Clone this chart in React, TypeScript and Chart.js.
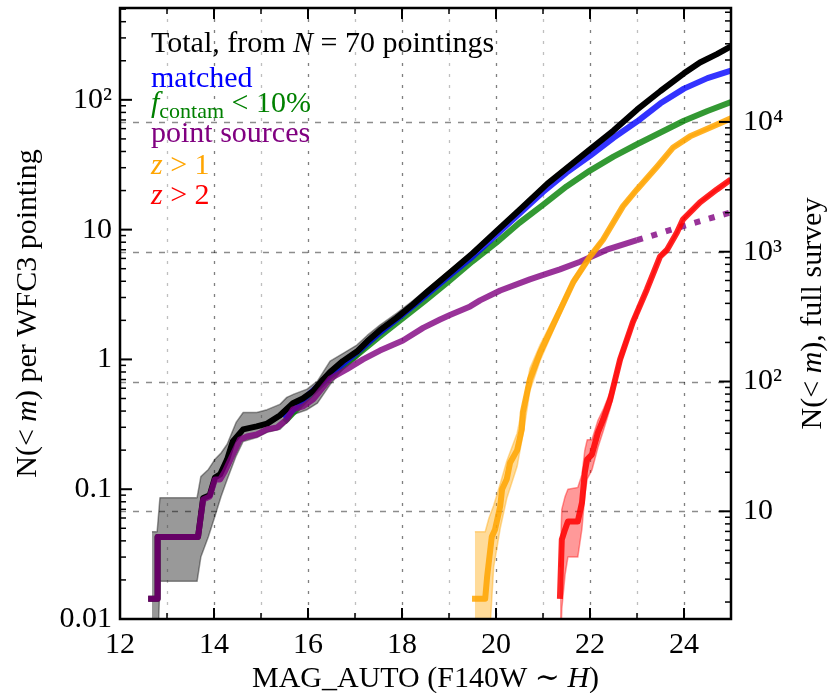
import React, { useEffect, useRef } from 'react';
import { Chart, registerables } from 'chart.js';

Chart.register(...registerables);

const FONT = "'Liberation Serif', 'Times New Roman', 'DejaVu Serif', serif";

// ---------- axis definitions ----------
const X_MIN = 12;
const X_MAX = 25;
const Y_MIN = 0.01;
const Y_MAX = 510;
const FULL_SURVEY_FACTOR = 148; // right axis (full survey) / left axis (per pointing)

const xTickVals = [12, 13, 14, 15, 16, 17, 18, 19, 20, 21, 22, 23, 24, 25];
const xTickLabels = ['12', '', '14', '', '16', '', '18', '', '20', '', '22', '', '24', ''];
const leftTickVals = [0.01, 0.1, 1, 10, 100];
const leftTickLabels = ['0.01', '0.1', '1', '10', '10²'];
const rightTickVals = [10, 100, 1000, 10000];
const rightTickLabels = ['10', '10²', '10³', '10⁴'];

// ---------- data ----------
// Total (black)
const totalMag = [12.6, 12.8, 12.8, 13.66, 13.77, 13.91, 14.02, 14.13, 14.28, 14.4, 14.62, 14.91, 15.13, 15.4, 15.68, 15.89, 16.11, 16.32, 16.47, 16.74, 17.04, 17.26, 17.53, 17.89, 18.23, 18.53, 19.09, 19.51, 20.02, 20.51, 21.09, 22.0, 22.5, 23.0, 23.5, 24.0, 24.34, 24.7, 25.0];
const totalN = [0.0143, 0.0143, 0.0429, 0.0429, 0.0857, 0.09, 0.123, 0.13, 0.17, 0.233, 0.289, 0.305, 0.32, 0.37, 0.46, 0.5, 0.57, 0.7, 0.8, 0.97, 1.15, 1.38, 1.68, 2.1, 2.65, 3.3, 4.9, 6.6, 9.8, 14.3, 22.5, 41.5, 58, 84, 117, 160, 194, 225, 258];
// Total uncertainty band
const totalBandMag = [12.68, 12.79, 12.85, 13.64, 13.72, 13.88, 14.02, 14.15, 14.28, 14.47, 14.62, 14.91, 15.13, 15.4, 15.55, 15.7, 15.98, 16.2, 16.47, 16.74, 17.04, 17.26, 17.53, 17.89, 18.23, 18.53, 19.09, 19.51, 20.02, 20.51, 21.09, 22.0, 22.5, 23.0, 23.5, 24.0, 24.34, 24.7, 25.0];
const totalBandLo = [0.004, 0.004, 0.0195, 0.0195, 0.03, 0.043, 0.062, 0.088, 0.119, 0.18, 0.233, 0.25, 0.274, 0.289, 0.327, 0.377, 0.41, 0.46, 0.64, 0.84, 1.02, 1.24, 1.53, 1.94, 2.48, 3.12, 4.68, 6.36, 9.52, 13.95, 22.0, 40.8, 57.2, 83, 116, 158.5, 192.5, 223.5, 256];
const totalBandHi = [0.047, 0.047, 0.086, 0.086, 0.125, 0.142, 0.17, 0.19, 0.222, 0.327, 0.39, 0.39, 0.41, 0.45, 0.51, 0.54, 0.59, 0.68, 0.97, 1.11, 1.29, 1.53, 1.84, 2.27, 2.83, 3.49, 5.13, 6.85, 10.1, 14.65, 23.0, 42.2, 58.8, 85, 118, 161.5, 195.5, 226.5, 260];

// Matched (blue)
const matchedMag = [15.5, 16.0, 16.5, 17.0, 17.5, 18.0, 18.5, 19.0, 19.5, 20.0, 20.5, 21.0, 21.5, 22.0, 22.5, 23.0, 23.5, 24.0, 24.5, 25.0];
const matchedN = [0.35, 0.53, 0.78, 1.1, 1.58, 2.2, 3.1, 4.4, 6.2, 9.1, 13.3, 19.5, 27.5, 37, 51, 68, 94, 122, 147, 168];

// f_contam < 10% (green)
const cleanMag = [15.5, 16.0, 16.5, 17.0, 17.5, 18.0, 18.5, 19.0, 19.5, 20.0, 20.5, 21.0, 21.5, 22.0, 22.5, 23.0, 23.5, 24.0, 24.5, 25.0];
const cleanN = [0.33, 0.51, 0.75, 1.05, 1.48, 2.05, 2.85, 4.0, 5.7, 7.9, 11.3, 15.5, 21.5, 28.5, 36.5, 45.5, 56, 69, 82, 96];

// Point sources (purple), solid part then dotted extrapolation
const pointMag = [12.6, 12.8, 12.8, 13.66, 13.77, 13.91, 14.02, 14.13, 14.23, 14.4, 14.55, 14.7, 14.91, 15.13, 15.34, 15.55, 15.68, 15.89, 16.11, 16.47, 16.83, 17.17, 17.53, 18.02, 18.45, 18.81, 19.02, 19.45, 19.66, 20.09, 20.72, 20.94, 21.36, 21.79, 22.36, 23.0];
const pointN = [0.0143, 0.0143, 0.0429, 0.0429, 0.0834, 0.088, 0.119, 0.119, 0.137, 0.185, 0.242, 0.255, 0.264, 0.289, 0.299, 0.345, 0.412, 0.434, 0.492, 0.71, 0.84, 1.0, 1.17, 1.4, 1.75, 2.03, 2.2, 2.56, 2.85, 3.4, 4.14, 4.4, 4.94, 5.65, 7.0, 8.3];
const pointExtMag = [23.0, 24.0, 25.0];
const pointExtN = [8.3, 10.7, 13.6];

// z > 1 (orange)
const z1Mag = [19.49, 19.77, 19.81, 19.91, 19.98, 20.09, 20.13, 20.23, 20.3, 20.45, 20.55, 20.57, 20.72, 20.94, 21.3, 21.64, 22.0, 22.28, 22.7, 23.0, 23.43, 23.77, 24.13, 24.62, 25.0];
const z1N = [0.0143, 0.0143, 0.021, 0.043, 0.049, 0.074, 0.1, 0.12, 0.16, 0.2, 0.29, 0.39, 0.7, 1.13, 2.14, 3.92, 6.2, 8.4, 15.1, 20.4, 30.7, 43, 52.3, 62.5, 72];
const z1BandMag = [19.55, 19.77, 19.85, 19.95, 20.09, 20.23, 20.45, 20.6, 20.72, 20.94, 21.3, 21.64, 22.0, 22.28, 22.7, 23.0, 23.43, 23.77, 24.13, 24.62, 25.0];
const z1BandLo = [0.004, 0.004, 0.006, 0.025, 0.05, 0.085, 0.15, 0.3, 0.57, 0.98, 1.95, 3.65, 5.9, 8.1, 14.6, 19.8, 30.0, 42.2, 51.5, 61.7, 71.2];
const z1BandHi = [0.047, 0.047, 0.06, 0.075, 0.11, 0.165, 0.27, 0.5, 0.85, 1.3, 2.35, 4.2, 6.5, 8.7, 15.6, 21.0, 31.4, 43.8, 53.1, 63.3, 72.8];

// z > 2 (red)
const z2Mag = [21.36, 21.4, 21.47, 21.53, 21.74, 21.83, 21.89, 21.94, 22.04, 22.17, 22.28, 22.43, 22.64, 22.91, 23.21, 23.49, 23.64, 23.85, 23.98, 24.34, 24.7, 25.0];
const z2N = [0.0143, 0.041, 0.049, 0.0564, 0.0564, 0.079, 0.135, 0.17, 0.185, 0.274, 0.345, 0.49, 1.0, 1.93, 3.46, 6.2, 7.0, 9.5, 12.0, 16.2, 20.4, 24.4];
const z2BandMag = [21.36, 21.4, 21.47, 21.53, 21.74, 21.83, 21.89, 21.94, 22.04, 22.17, 22.28, 22.43, 22.64, 22.91, 23.21, 23.49, 23.64, 23.85, 23.98, 24.34, 24.7, 25.0];
const z2BandLo = [0.004, 0.012, 0.022, 0.03, 0.03, 0.05, 0.09, 0.12, 0.14, 0.21, 0.28, 0.42, 0.9, 1.8, 3.3, 6.0, 6.8, 9.25, 11.7, 15.9, 20.1, 24.1];
const z2BandHi = [0.025, 0.07, 0.088, 0.1, 0.103, 0.13, 0.2, 0.24, 0.24, 0.34, 0.41, 0.56, 1.1, 2.06, 3.6, 6.4, 7.2, 9.75, 12.3, 16.5, 20.7, 24.7];

// ---------- text ----------
type Seg = { t: string; it?: boolean; sub?: boolean };
const legendLines: { segs: Seg[]; color: string }[] = [
  { segs: [{ t: 'Total, from ' }, { t: 'N', it: true }, { t: ' = 70 pointings' }], color: '#000000' },
  { segs: [{ t: 'matched' }], color: '#0000ff' },
  { segs: [{ t: 'f', it: true }, { t: 'contam', sub: true }, { t: ' < 10%' }], color: '#008000' },
  { segs: [{ t: 'point sources' }], color: '#800080' },
  { segs: [{ t: 'z', it: true }, { t: ' > 1' }], color: '#ffa500' },
  { segs: [{ t: 'z', it: true }, { t: ' > 2' }], color: '#ff0000' },
];
const legendBaselines = [52, 87, 112, 142, 174, 204];
const xTitle: Seg[] = [{ t: 'MAG_AUTO (F140W ∼ ' }, { t: 'H', it: true }, { t: ')' }];
const yTitle: Seg[] = [{ t: 'N(< ' }, { t: 'm', it: true }, { t: ') per WFC3 pointing' }];
const y2Title: Seg[] = [{ t: 'N(< ' }, { t: 'm', it: true }, { t: '), full survey' }];

const pts = (xs: number[], ys: number[]) => xs.map((x, i) => ({ x, y: ys[i] }));

function drawRich(ctx: CanvasRenderingContext2D, segs: Seg[], x: number, y: number, size: number, color: string, align: 'left' | 'center') {
  const fontFor = (s: Seg) => `${s.it ? 'italic ' : ''}${s.sub ? Math.round(size * 0.72) : size}px ${FONT}`;
  let total = 0;
  for (const s of segs) {
    ctx.font = fontFor(s);
    total += ctx.measureText(s.t).width;
  }
  let cx = align === 'center' ? x - total / 2 : x;
  ctx.fillStyle = color;
  ctx.textAlign = 'left';
  ctx.textBaseline = 'alphabetic';
  for (const s of segs) {
    ctx.font = fontFor(s);
    ctx.fillText(s.t, cx, y + (s.sub ? size * 0.2 : 0));
    cx += ctx.measureText(s.t).width;
  }
}

const decorPlugin = {
  id: 'decor',
  beforeDatasetsDraw(chart: any) {
    const { ctx, chartArea: a, scales } = chart;
    ctx.save();
    ctx.lineWidth = 1.3;
    // vertical grid (dotted)
    ctx.setLineDash([3, 8]);
    for (let m = X_MIN + 1; m < X_MAX; m++) {
      const px = Math.round(scales.x.getPixelForValue(m)) + 0.5;
      ctx.strokeStyle = m % 2 === 0 ? 'rgba(0,0,0,0.5)' : 'rgba(0,0,0,0.25)';
      ctx.beginPath();
      ctx.moveTo(px, a.top);
      ctx.lineTo(px, a.bottom);
      ctx.stroke();
    }
    // horizontal grid (dashed) at right-axis decades
    ctx.setLineDash([6, 7]);
    ctx.strokeStyle = 'rgba(0,0,0,0.45)';
    for (const v of rightTickVals) {
      const py = Math.round(scales.y2.getPixelForValue(v)) + 0.5;
      ctx.beginPath();
      ctx.moveTo(a.left, py);
      ctx.lineTo(a.right, py);
      ctx.stroke();
    }
    ctx.restore();
  },
  afterDraw(chart: any) {
    const { ctx, chartArea: a, scales } = chart;
    ctx.save();
    ctx.strokeStyle = '#000';
    const line = (x1: number, y1: number, x2: number, y2: number, w: number) => {
      ctx.lineWidth = w;
      ctx.beginPath();
      ctx.moveTo(x1, y1);
      ctx.lineTo(x2, y2);
      ctx.stroke();
    };
    // x ticks (bottom + top)
    for (let m = X_MIN; m <= X_MAX; m++) {
      const px = scales.x.getPixelForValue(m);
      const major = m % 2 === 0;
      const len = major ? 11 : 6;
      const w = major ? 2 : 1.5;
      line(px, a.bottom, px, a.bottom - len, w);
      line(px, a.top, px, a.top + len, w);
    }
    // left log ticks
    for (let e = -2; e <= 3; e++) {
      for (let k = 1; k <= 9; k++) {
        const v = k * Math.pow(10, e);
        if (v < scales.y.min || v > scales.y.max) continue;
        const py = scales.y.getPixelForValue(v);
        line(a.left, py, a.left + (k === 1 ? 12 : 6), py, k === 1 ? 2 : 1.5);
      }
    }
    // right log ticks
    for (let e = 0; e <= 5; e++) {
      for (let k = 1; k <= 9; k++) {
        const v = k * Math.pow(10, e);
        if (v < scales.y2.min || v > scales.y2.max) continue;
        const py = scales.y2.getPixelForValue(v);
        line(a.right, py, a.right - (k === 1 ? 12 : 6), py, k === 1 ? 2 : 1.5);
      }
    }
    // frame
    ctx.lineWidth = 2.5;
    ctx.strokeRect(a.left, a.top, a.right - a.left, a.bottom - a.top);

    // legend texts
    legendLines.forEach((l, i) => drawRich(ctx, l.segs, 151, legendBaselines[i], 30, l.color, 'left'));

    // axis titles
    drawRich(ctx, xTitle, (a.left + a.right) / 2, 687, 30, '#000', 'center');
    ctx.save();
    ctx.translate(36, (a.top + a.bottom) / 2);
    ctx.rotate(-Math.PI / 2);
    drawRich(ctx, yTitle, 0, 0, 30, '#000', 'center');
    ctx.restore();
    ctx.save();
    ctx.translate(821, (a.top + a.bottom) / 2);
    ctx.rotate(-Math.PI / 2);
    drawRich(ctx, y2Title, 0, 0, 30, '#000', 'center');
    ctx.restore();
    ctx.restore();
  },
};

const lineDs = (label: string, data: any[], color: string, order: number, extra: any = {}) => ({
  label,
  data,
  borderColor: color,
  backgroundColor: color,
  borderWidth: 6,
  pointRadius: 0,
  tension: 0,
  fill: false,
  borderJoinStyle: 'round',
  borderCapStyle: 'butt',
  yAxisID: 'y',
  order,
  ...extra,
});

const noPad = (s: any) => {
  s.paddingTop = 0;
  s.paddingBottom = 0;
  s.paddingLeft = 0;
  s.paddingRight = 0;
};

export default function App() {
  const ref = useRef<HTMLCanvasElement | null>(null);

  useEffect(() => {
    document.body.style.margin = '0';
    if (!ref.current) return;

    const datasets: any[] = [
      // 0,1: total band
      lineDs('total hi', pts(totalBandMag, totalBandHi), 'rgba(0,0,0,0.4)', 20, { borderWidth: 1.5, fill: { target: 1 }, backgroundColor: 'rgba(0,0,0,0.4)' }),
      lineDs('total lo', pts(totalBandMag, totalBandLo), 'rgba(0,0,0,0.4)', 20, { borderWidth: 1.5 }),
      lineDs('f_contam < 10%', pts(cleanMag, cleanN), 'rgba(0,128,0,0.8)', 12),
      lineDs('matched', pts(matchedMag, matchedN), 'rgba(0,0,255,0.8)', 11),
      lineDs('Total', pts(totalMag, totalN), '#000000', 10),
      lineDs('point sources', pts(pointMag, pointN), 'rgba(128,0,128,0.8)', 9),
      lineDs('point sources (ext)', pts(pointExtMag, pointExtN), 'rgba(128,0,128,0.8)', 9, { borderDash: [6, 9] }),
      // 7,8: z>1 band
      lineDs('z>1 hi', pts(z1BandMag, z1BandHi), 'rgba(255,165,0,0.4)', 8, { borderWidth: 1.5, fill: { target: 8 }, backgroundColor: 'rgba(255,165,0,0.4)' }),
      lineDs('z>1 lo', pts(z1BandMag, z1BandLo), 'rgba(255,165,0,0.4)', 8, { borderWidth: 1.5 }),
      lineDs('z > 1', pts(z1Mag, z1N), 'rgba(255,165,0,0.85)', 7),
      // 10,11: z>2 band
      lineDs('z>2 hi', pts(z2BandMag, z2BandHi), 'rgba(255,0,0,0.4)', 6, { borderWidth: 1.5, fill: { target: 11 }, backgroundColor: 'rgba(255,0,0,0.4)' }),
      lineDs('z>2 lo', pts(z2BandMag, z2BandLo), 'rgba(255,0,0,0.4)', 6, { borderWidth: 1.5 }),
      lineDs('z > 2', pts(z2Mag, z2N), 'rgba(255,0,0,0.85)', 5),
    ];

    const tickFont = { family: FONT, size: 30 };

    const chart = new Chart(ref.current, {
      type: 'line',
      data: { datasets },
      options: {
        animation: false,
        responsive: false,
        devicePixelRatio: 1,
        layout: { padding: { top: 8, left: 0, right: 0, bottom: 0 } },
        plugins: { legend: { display: false }, tooltip: { enabled: false } },
        scales: {
          x: {
            type: 'linear',
            min: X_MIN,
            max: X_MAX,
            afterBuildTicks: (s: any) => { s.ticks = xTickVals.map((v) => ({ value: v })); },
            afterFit: (s: any) => { s.height = 74; noPad(s); },
            ticks: {
              callback: (v: any) => xTickLabels[xTickVals.indexOf(Number(v))] ?? '',
              font: tickFont,
              color: '#000',
              padding: 8,
              maxRotation: 0,
              autoSkip: false,
            },
            grid: { display: false, drawTicks: false },
            border: { display: false },
          },
          y: {
            type: 'logarithmic',
            position: 'left',
            min: Y_MIN,
            max: Y_MAX,
            afterBuildTicks: (s: any) => { s.ticks = leftTickVals.map((v) => ({ value: v })); },
            afterFit: (s: any) => { s.width = 120; noPad(s); },
            ticks: {
              callback: (v: any) => leftTickLabels[leftTickVals.indexOf(Number(v))] ?? '',
              font: tickFont,
              color: '#000',
              padding: 8,
              autoSkip: false,
            },
            grid: { display: false, drawTicks: false },
            border: { display: false },
          },
          y2: {
            type: 'logarithmic',
            position: 'right',
            min: Y_MIN * FULL_SURVEY_FACTOR,
            max: Y_MAX * FULL_SURVEY_FACTOR,
            afterBuildTicks: (s: any) => { s.ticks = rightTickVals.map((v) => ({ value: v })); },
            afterFit: (s: any) => { s.width = 98; noPad(s); },
            ticks: {
              callback: (v: any) => rightTickLabels[rightTickVals.indexOf(Number(v))] ?? '',
              font: tickFont,
              color: '#000',
              padding: 12,
              autoSkip: false,
            },
            grid: { display: false, drawTicks: false },
            border: { display: false },
          },
        },
      } as any,
      plugins: [decorPlugin as any],
    });

    return () => chart.destroy();
  }, []);

  return (
    <div style={{ width: 829, height: 693 }}>
      <canvas ref={ref} width={829} height={693} style={{ display: 'block' }} />
    </div>
  );
}
